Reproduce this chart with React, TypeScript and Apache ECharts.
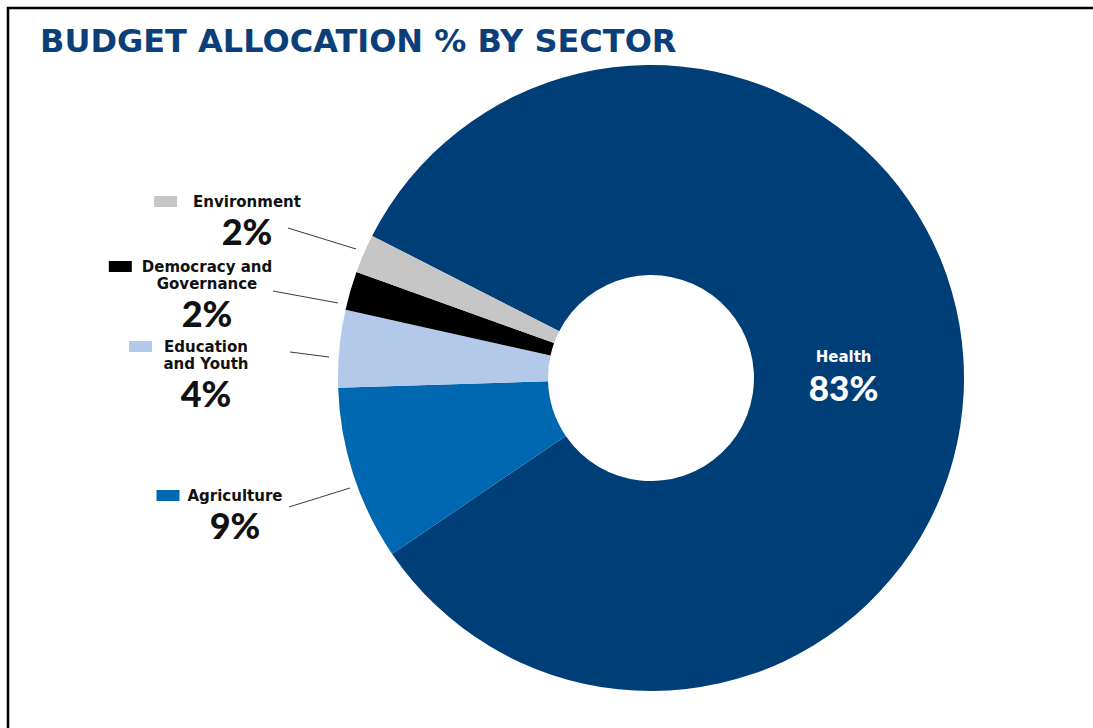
import React, { useEffect, useRef } from 'react';
import * as echarts from 'echarts';

const TITLE = 'BUDGET ALLOCATION % BY SECTOR';
const sectors = ['Health', 'Agriculture', 'Education and Youth', 'Democracy and Governance', 'Environment'];
const nameLines = [['Health'], ['Agriculture'], ['Education', 'and Youth'], ['Democracy and', 'Governance'], ['Environment']];
const values = [83, 9, 4, 2, 2];
const colors = ['#003E78', '#0067B1', '#B3C9E9', '#000000', '#C6C6C6'];

// layout of the outside labels: centre x / top y of text block, gap after swatch, leader line ends
const labelAnchors: ({ cx: number; top: number; gap: number; sx: number; sy: number; lx: number; ly: number } | null)[] = [
  null,
  { cx: 235, top: 487, gap: 8, sx: 350, sy: 488, lx: 289, ly: 507 },
  { cx: 206, top: 338, gap: 12, sx: 329, sy: 357, lx: 290, ly: 352 },
  { cx: 207, top: 258, gap: 10, sx: 338, sy: 303, lx: 273, ly: 291 },
  { cx: 247, top: 193, gap: 16, sx: 356, sy: 249, lx: 288, ly: 228 },
];

const CX = 651;
const CY = 378;
const R_IN = 103;
const R_OUT = 313;
const START = 153;
const NAME_FONT = '"DejaVu Sans", Verdana, sans-serif';
const PCT_FONT = 'Lato, "Open Sans", sans-serif';

export default function App() {
  const ref = useRef<HTMLDivElement>(null);
  useEffect(() => {
    if (!ref.current) return;
    const chart = echarts.init(ref.current, null, { renderer: 'svg' });
    const rich: any = {
      nm: { fontFamily: NAME_FONT, fontSize: 15, fontWeight: 'bold', color: '#111', lineHeight: 17, align: 'center' },
      pct: { fontFamily: PCT_FONT, fontSize: 36, fontWeight: 900, color: '#111', lineHeight: 42, align: 'center' },
      hn: { fontFamily: NAME_FONT, fontSize: 15, fontWeight: 'bold', color: '#fff', lineHeight: 22, align: 'center' },
      hp: { fontFamily: PCT_FONT, fontSize: 35, fontWeight: 900, color: '#fff', lineHeight: 38, align: 'center' },
    };
    colors.forEach((c, i) => {
      rich['sq' + i] = { width: 23, height: 11, backgroundColor: c, align: 'center' };
      const g = labelAnchors[i] ? labelAnchors[i]!.gap : 0;
      rich['gap' + i] = { width: g, height: 11, align: 'center' };
      rich['pad' + i] = { width: 23 + g, height: 11, align: 'center' };
    });
    const data = sectors.map((name, i) => {
      const lines = nameLines[i];
      const text =
        i === 0
          ? `{hn|${lines[0]}}\n{hp|${values[i]}%}`
          : [
              `{sq${i}|}{gap${i}|}{nm|${lines[0]}}{pad${i}|}`,
              ...lines.slice(1).map((l) => `{nm|${l}}`),
              `{pct|${values[i]}%}`,
            ].join('\n');
      return {
        name,
        value: values[i],
        itemStyle: { color: colors[i] },
        label: {
          position: i === 0 ? 'inside' : 'outside',
          formatter: text,
        },
        labelLine: { show: i !== 0 },
      };
    });
    chart.setOption({
      animation: false,
      backgroundColor: '#ffffff',
      title: {
        text: TITLE,
        left: 35,
        top: 20,
        textStyle: { fontFamily: NAME_FONT, fontSize: 32, fontWeight: 'bold', color: '#0B3F7A' },
      },
      graphic: [
        {
          type: 'polyline',
          shape: { points: [[8, 728], [8, 8], [1093, 8]] },
          style: { stroke: '#000', lineWidth: 2.5, fill: 'none' },
        },
      ],
      series: [
        {
          type: 'pie',
          center: [CX, CY],
          radius: [R_IN, R_OUT],
          startAngle: START,
          clockwise: true,
          avoidLabelOverlap: false,
          data,
          label: { show: true, rich },
          labelLine: { show: true, lineStyle: { color: '#3a3a3a', width: 1 } },
          emphasis: { disabled: true },
          labelLayout: (params: any) => {
            const i = params.dataIndex;
            if (i === 0) return { dx: -18, dy: 11 };
            const a = labelAnchors[i]!;
            return {
              x: a.cx,
              y: a.top,
              align: 'center',
              verticalAlign: 'top',
              labelLinePoints: [
                [a.sx, a.sy],
                [(a.sx + a.lx) / 2, (a.sy + a.ly) / 2],
                [a.lx, a.ly],
              ],
            };
          },
        },
      ],
    });
    return () => chart.dispose();
  }, []);
  return (
    <div
      ref={ref}
      style={{ position: 'absolute', left: 0, top: 0, width: 1093, height: 728, background: '#fff' }}
    />
  );
}
